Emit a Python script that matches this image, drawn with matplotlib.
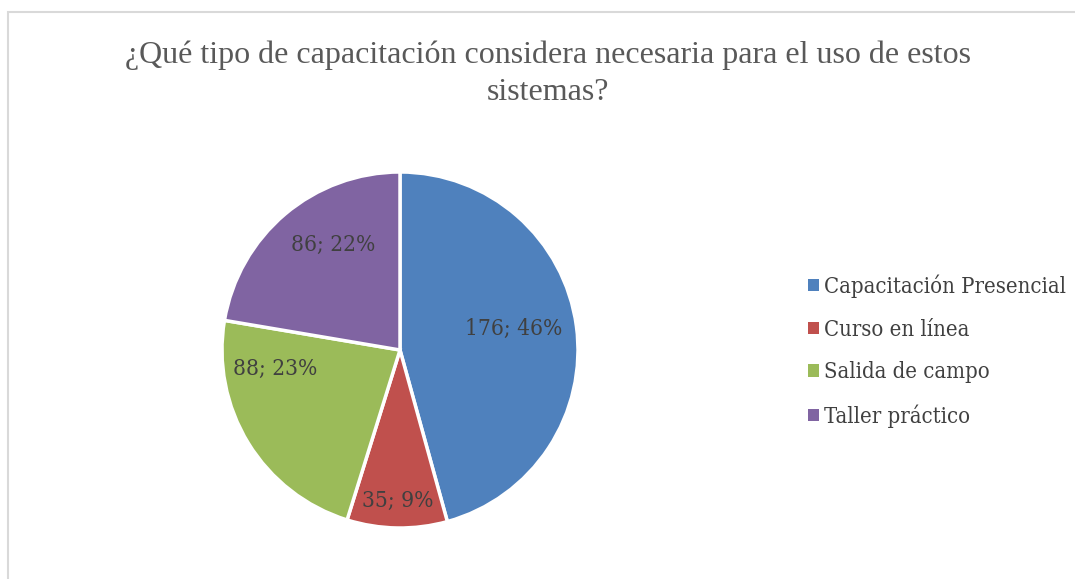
import matplotlib
matplotlib.use("Agg")
import matplotlib.pyplot as plt
import numpy as np
from matplotlib.patches import Rectangle

# data
categories = ["Capacitación Presencial", "Curso en línea",
              "Salida de campo", "Taller práctico"]
counts = [176, 35, 88, 86]
title = "¿Qué tipo de capacitación considera necesaria para el uso de estos\nsistemas?"

colors = ["#4F81BD", "#C0504D", "#9BBB59", "#8064A2"]
# label layout: (radial distance, angle nudge from wedge bisector in degrees)
label_dist = [0.65, 0.85, 0.71, 0.70]
label_nudge = [3, 0, -23, -8]

TEXT_FONT = dict(family=["DejaVu Serif"], stretch="condensed")

W, H = 1075, 579
fig = plt.figure(figsize=(W / 100, H / 100), dpi=100)

# chart area border
fig.patches.append(Rectangle((8 / W, -0.05), 1.1, (579 - 12) / H + 0.05,
                             transform=fig.transFigure, fill=False,
                             edgecolor="#D9D9D9", linewidth=1.5))

cx, cy, r = 400, 579 - 350, 178
ax = fig.add_axes([(cx - r) / W, (cy - r) / H, 2 * r / W, 2 * r / H])
wedges, _ = ax.pie(counts, colors=colors, startangle=90, counterclock=False,
                   wedgeprops=dict(edgecolor="white", linewidth=2.5))
ax.set_xlim(-1, 1)
ax.set_ylim(-1, 1)
ax.set_aspect("equal")
ax.axis("off")

total = sum(counts)
for w, n, d, nudge in zip(wedges, counts, label_dist, label_nudge):
    ang = np.deg2rad((w.theta1 + w.theta2) / 2 + nudge)
    pct = round(100 * n / total)
    ax.text(d * np.cos(ang), d * np.sin(ang), f"{n}; {pct}%",
            ha="center", va="center", color="#404040", fontsize=16.3,
            **TEXT_FONT)

fig.text(548 / W, 1 - 40 / H, title, ha="center", va="top",
         fontsize=23, family="Liberation Serif", color="#595959",
         linespacing=1.38)

handles = [Rectangle((0, 0), 1, 1, facecolor=c) for c in colors]
fig.legend(handles, categories, loc="center left",
           bbox_to_anchor=(788 / W, 1 - 351 / H), frameon=False,
           handlelength=0.5, handleheight=0.5, handletextpad=0.26,
           labelspacing=0.95, labelcolor="#404040",
           prop=dict(size=15.8, **TEXT_FONT))

fig.savefig("out.png", dpi=100)
